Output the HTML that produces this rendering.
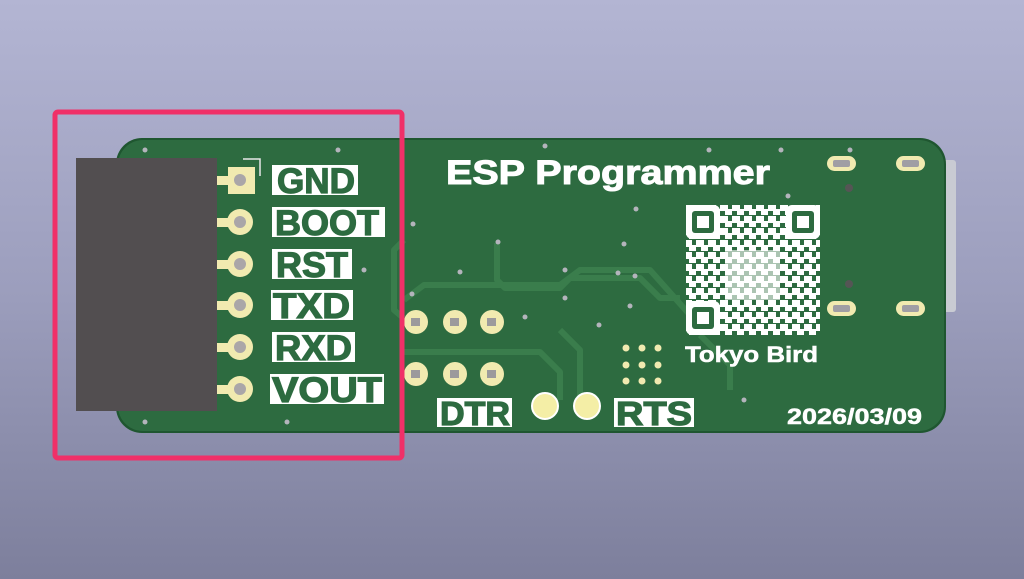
<!DOCTYPE html>
<html><head><style>
html,body{margin:0;padding:0;}
body{width:1024px;height:579px;overflow:hidden;background:linear-gradient(#b3b5d3,#9c9ebd 50%,#7d7f9c);}
svg{position:absolute;left:0;top:0;}
text{font-family:"Liberation Sans",sans-serif;font-weight:bold;}
</style></head><body>
<svg width="1024" height="579" viewBox="0 0 1024 579">
<defs>
<pattern id="qr" width="12" height="12" patternUnits="userSpaceOnUse">
<rect x="0" y="0" width="8" height="7" fill="#fff"/><rect x="5" y="5" width="7" height="6" fill="#fff"/>
</pattern>
</defs>
<rect x="938" y="160" width="18" height="152" rx="3" fill="#c9cbd3"/>
<rect x="116" y="138" width="830" height="295" rx="26" fill="#1f5630"/>
<rect x="118" y="140" width="826" height="291" rx="25" fill="#2d6b40"/>
<g fill="none" stroke="#3a7d4c" stroke-width="6" stroke-linejoin="round">
<path d="M497 243 V280 l8 8 H560 l10 -10 H640 l20 20 H680"/>
<path d="M404 240 l-10 10 V310 l14 12"/>
<path d="M404 300 l20 -15 H560 l20 -15 H650 l40 45"/>
<path d="M404 352 H540 l20 20 V400"/>
<path d="M560 330 l20 20 V400"/>
<path d="M700 335 l30 30 V390"/>
</g>
<rect x="76" y="158" width="141" height="253" fill="#524e50"/>
<path d="M243 159 H260 V176" fill="none" stroke="#e8e8e8" stroke-width="1.5"/>
<g fill="#f1eab0">
<rect x="217" y="176" width="16" height="9"/><rect x="228" y="167" width="27" height="27"/>
<rect x="217" y="218" width="16" height="9"/><circle cx="240" cy="222" r="13"/>
<rect x="217" y="260" width="16" height="9"/><circle cx="240" cy="264" r="13"/>
<rect x="217" y="301" width="16" height="9"/><circle cx="240" cy="305" r="13"/>
<rect x="217" y="343" width="16" height="9"/><circle cx="240" cy="347" r="13"/>
<rect x="217" y="385" width="16" height="9"/><circle cx="240" cy="389" r="13"/>
</g>
<g fill="#aaa6a8">
<circle cx="240" cy="180" r="6"/><circle cx="240" cy="222" r="6"/><circle cx="240" cy="264" r="6"/>
<circle cx="240" cy="305" r="6"/><circle cx="240" cy="347" r="6"/><circle cx="240" cy="389" r="6"/>
</g>
<g fill="#fff">
<rect x="272" y="165" width="86" height="30"/>
<rect x="272" y="207" width="113" height="30"/>
<rect x="272" y="249" width="80" height="30"/>
<rect x="271" y="290" width="82" height="30"/>
<rect x="272" y="332" width="83" height="30"/>
<rect x="270" y="374" width="114" height="30"/>
<rect x="437" y="398" width="75" height="29"/>
<rect x="614" y="398" width="80" height="29"/>
</g>
<g fill="#2d6b40" font-size="35" stroke="#2d6b40" stroke-width="1.2">
<text x="277" y="193" textLength="78" lengthAdjust="spacingAndGlyphs">GND</text>
<text x="275" y="235" textLength="104" lengthAdjust="spacingAndGlyphs">BOOT</text>
<text x="276" y="277" textLength="72" lengthAdjust="spacingAndGlyphs">RST</text>
<text x="273" y="318" textLength="77" lengthAdjust="spacingAndGlyphs">TXD</text>
<text x="275" y="360" textLength="77" lengthAdjust="spacingAndGlyphs">RXD</text>
<text x="272" y="402" textLength="110" lengthAdjust="spacingAndGlyphs">VOUT</text>
<text x="440" y="425" font-size="33" textLength="70" lengthAdjust="spacingAndGlyphs">DTR</text>
<text x="616" y="425" font-size="33" textLength="76" lengthAdjust="spacingAndGlyphs">RTS</text>
</g>
<g fill="#f1eab0"><circle cx="416" cy="322" r="12"/><circle cx="455" cy="322" r="12"/><circle cx="492" cy="322" r="12"/>
<circle cx="416" cy="374" r="12"/><circle cx="455" cy="374" r="12"/><circle cx="492" cy="374" r="12"/></g>
<g fill="#9c9a9c"><rect x="411" y="318" width="9" height="8"/><rect x="450" y="318" width="9" height="8"/><rect x="487" y="318" width="9" height="8"/>
<rect x="411" y="370" width="9" height="8"/><rect x="450" y="370" width="9" height="8"/><rect x="487" y="370" width="9" height="8"/></g>
<g fill="#f4eea6" stroke="#fff" stroke-width="2"><circle cx="545" cy="406" r="13"/><circle cx="587" cy="406" r="13"/></g>
<g fill="#fff" stroke="#fff">
<text x="446" y="184" font-size="34" stroke-width="1" textLength="324" lengthAdjust="spacingAndGlyphs">ESP Programmer</text>
<text x="685" y="362" font-size="22" stroke-width="0.5" textLength="133" lengthAdjust="spacingAndGlyphs">Tokyo Bird</text>
<text x="787" y="424" font-size="22" stroke-width="0.5" textLength="135" lengthAdjust="spacingAndGlyphs">2026/03/09</text>
</g>
<rect x="686" y="205" width="134" height="130" fill="url(#qr)"/>
<rect x="725" y="250" width="55" height="50" fill="#fff" opacity="0.6"/>
<g fill="#fff"><rect x="686" y="205" width="34" height="34" rx="6"/><rect x="786" y="205" width="34" height="34" rx="6"/><rect x="686" y="301" width="34" height="34" rx="6"/></g>
<g fill="#2d6b40"><rect x="692" y="211" width="22" height="22" rx="3"/><rect x="792" y="211" width="22" height="22" rx="3"/><rect x="692" y="307" width="22" height="22" rx="3"/></g>
<g fill="#fff"><rect x="697" y="216" width="12" height="12"/><rect x="797" y="216" width="12" height="12"/><rect x="697" y="312" width="12" height="12"/></g>
<g fill="#f1eab0"><circle cx="626" cy="348" r="3.5"/><circle cx="642" cy="348" r="3.5"/><circle cx="658" cy="348" r="3.5"/>
<circle cx="626" cy="365" r="3.5"/><circle cx="642" cy="365" r="3.5"/><circle cx="658" cy="365" r="3.5"/>
<circle cx="626" cy="381" r="3.5"/><circle cx="642" cy="381" r="3.5"/><circle cx="658" cy="381" r="3.5"/></g>
<g fill="#f1eab0"><rect x="827" y="156" width="29" height="15" rx="7.5"/><rect x="896" y="156" width="29" height="15" rx="7.5"/>
<rect x="827" y="301" width="29" height="15" rx="7.5"/><rect x="896" y="301" width="29" height="15" rx="7.5"/></g>
<g fill="#a09ea4"><rect x="833" y="160" width="17" height="7" rx="2"/><rect x="902" y="160" width="17" height="7" rx="2"/>
<rect x="833" y="305" width="17" height="7" rx="2"/><rect x="902" y="305" width="17" height="7" rx="2"/></g>
<g fill="#555"><circle cx="849" cy="188" r="4"/><circle cx="849" cy="284" r="4"/></g>
<g fill="#b4b4bc">
<circle cx="145" cy="150" r="2.5"/><circle cx="338" cy="150" r="2.5"/><circle cx="145" cy="422" r="2.5"/><circle cx="287" cy="422" r="2.5"/>
<circle cx="413" cy="224" r="2.5"/><circle cx="364" cy="270" r="2.5"/><circle cx="412" cy="294" r="2.5"/><circle cx="498" cy="242" r="2.5"/>
<circle cx="460" cy="272" r="2.5"/><circle cx="525" cy="317" r="2.5"/><circle cx="565" cy="270" r="2.5"/><circle cx="618" cy="273" r="2.5"/>
<circle cx="636" cy="209" r="2.5"/><circle cx="624" cy="244" r="2.5"/><circle cx="635" cy="276" r="2.5"/><circle cx="630" cy="306" r="2.5"/>
<circle cx="599" cy="325" r="2.5"/><circle cx="565" cy="298" r="2.5"/><circle cx="744" cy="400" r="2.5"/><circle cx="709" cy="150" r="2.5"/>
<circle cx="781" cy="150" r="2.5"/><circle cx="850" cy="150" r="2.5"/><circle cx="788" cy="196" r="2.5"/><circle cx="545" cy="146" r="2.5"/>
</g>
<rect x="55" y="112" width="347" height="346" rx="3" fill="none" stroke="#f03068" stroke-width="5"/>
</svg>
</body></html>
